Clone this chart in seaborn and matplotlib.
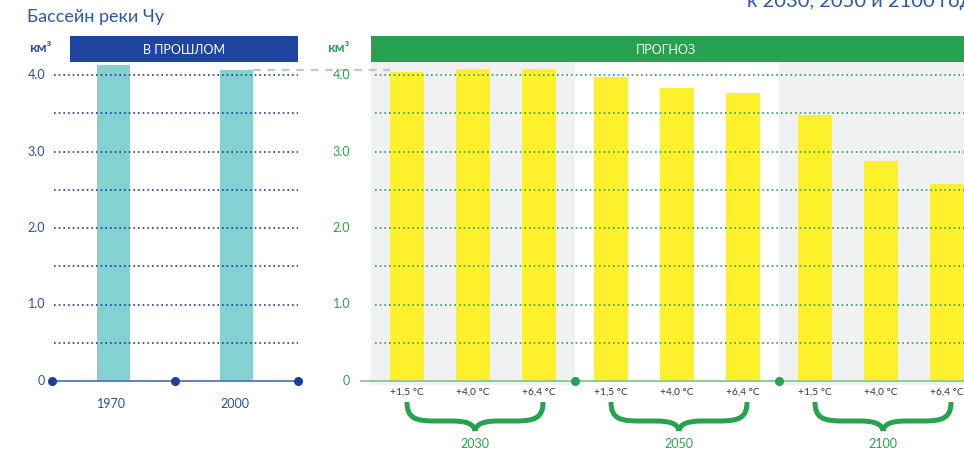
import matplotlib
matplotlib.use("Agg")
import matplotlib.pyplot as plt
from matplotlib.path import Path
from matplotlib.patches import PathPatch, Rectangle
import seaborn as sns
import pandas as pd

# ---------------- data ----------------
past_years = ["1970", "2000"]
past_values = [4.13, 4.07]

forecast_years = ["2030", "2050", "2100"]
scenarios = ["+1,5 °C", "+4,0 °C", "+6,4 °C"]
values_15 = [4.04, 3.97, 3.48]
values_40 = [4.08, 3.83, 2.88]
values_64 = [4.08, 3.76, 2.58]

y_ticks = [0, 1, 2, 3, 4]
y_tick_labels = ["0", "1.0", "2.0", "3.0", "4.0"]
grid_levels = [0.5, 1.0, 1.5, 2.0, 2.5, 3.0, 3.5, 4.0]

title = "Бассейн реки Чу"
top_title = "к 2030, 2050 и 2100 годам"
unit = "км³"
past_header = "В ПРОШЛОМ"
forecast_header = "ПРОГНОЗ"

# ---------------- style ----------------
sns.set_theme(style="white")
FONT = ["Lato", "Open Sans", "DejaVu Sans"]
plt.rcParams["font.family"] = FONT

BLUE_HDR = "#1E46A0"
BLUE_TXT = "#2D4F9E"
TITLE_BLUE = "#2E59A8"
GREEN_HDR = "#27A24E"
GREEN_TXT = "#2BA14F"
TEAL = "#83D1D1"
YELLOW = "#FEF12B"
GRAY_BAND = "#F0F1F3"

W, H = 964, 450
fig = plt.figure(figsize=(W / 100, H / 100), dpi=100)

def fig_rect(x0, y_top, x1, y_bot):
    return [x0 / W, (H - y_bot) / H, (x1 - x0) / W, (y_bot - y_top) / H]

px_per_unit = 76.5
y_base_px = 381
y_top_px = 62
y_bot_px = 385
ylim = (-(y_bot_px - y_base_px) / px_per_unit, (y_base_px - y_top_px) / px_per_unit)

# ---------------- left panel ----------------
axL = fig.add_axes(fig_rect(52, y_top_px, 298, y_bot_px))
past_df = pd.DataFrame({"year": past_years, "value": past_values})
sns.barplot(data=past_df, x="year", y="value", color=TEAL, saturation=1,
            width=0.276, linewidth=0, ax=axL, zorder=2)
axL.set_xlim(-0.5, 1.5)
axL.set_ylim(*ylim)
for lvl in grid_levels:
    axL.plot([-0.48, 1.5], [lvl, lvl], ls=(0, (1, 1.8)), lw=1.2,
             color="#1E3F9A", zorder=3, clip_on=False)
axL.plot([-0.5, 1.5], [0, 0], color="#5A76B2", lw=1.3, zorder=3, clip_on=False)
axL.plot([-0.5, 0.5, 1.5], [0, 0, 0], "o", color="#1E3F98", ms=5.5, zorder=4,
         clip_on=False)
axL.axis("off")

# ---------------- right panel ----------------
axR = fig.add_axes(fig_rect(371, y_top_px, 983, y_bot_px))
fc_df = pd.DataFrame({
    "year": forecast_years * 3,
    "scenario": [scenarios[0]] * 3 + [scenarios[1]] * 3 + [scenarios[2]] * 3,
    "value": values_15 + values_40 + values_64,
})
axR.axvspan(-0.5, 0.5, color=GRAY_BAND, zorder=0, lw=0)
axR.axvspan(1.5, 2.5, color=GRAY_BAND, zorder=0, lw=0)
sns.barplot(data=fc_df, x="year", y="value", hue="scenario", hue_order=scenarios,
            palette=[YELLOW] * 3, saturation=1, width=0.97, gap=0.485,
            linewidth=0, legend=False, ax=axR, zorder=2)
axR.set_xlim(-0.5, 2.5)
axR.set_ylim(*ylim)
for lvl in grid_levels:
    axR.plot([-0.48, 2.5], [lvl, lvl], ls=(0, (1, 1.8)), lw=1.2,
             color=GREEN_TXT, zorder=3, clip_on=False)
axR.plot([-0.55, 2.5], [0, 0], color="#86C994", lw=1.3, zorder=3, clip_on=False)
axR.plot([0.5, 1.5], [0, 0], "o", color=GREEN_HDR, ms=5.5, zorder=4, clip_on=False)
axR.axis("off")

# ---------------- overlay (pixel coordinates) ----------------
ov = fig.add_axes([0, 0, 1, 1])
ov.set_xlim(0, W)
ov.set_ylim(H, 0)
ov.axis("off")

def to_px(ax, x, y):
    dx, dy = ax.transData.transform((x, y))
    return dx, H - dy

# title texts
ov.text(27, 17, title, fontsize=13, color=TITLE_BLUE, va="center", ha="left")
ov.text(747, 7, top_title, fontsize=14.5, color=TITLE_BLUE, va="baseline", ha="left")

# header bars
ov.add_patch(Rectangle((70, 36), 228, 26, color=BLUE_HDR, lw=0))
ov.text(184, 49.5, past_header, fontsize=9, color="white", ha="center", va="center")
ov.add_patch(Rectangle((371, 36), W - 371, 26, color=GREEN_HDR, lw=0))
ov.text(666, 49.5, forecast_header, fontsize=9, color="white", ha="center", va="center")

# unit labels
ov.text(29, 48, unit, fontsize=10, color=BLUE_TXT, fontweight="bold", ha="left", va="center")
ov.text(327, 48, unit, fontsize=10, color=GREEN_TXT, fontweight="bold", ha="left", va="center")

# y tick labels
for t, lab in zip(y_ticks, y_tick_labels):
    _, py = to_px(axL, 0, t)
    ov.text(45, py, lab, fontsize=9, color=BLUE_TXT, ha="right", va="center")
    _, py = to_px(axR, 0, t)
    ov.text(350, py, lab, fontsize=9, color=GREEN_TXT, ha="right", va="center")

# past x labels
for i, yr in enumerate(past_years):
    px, _ = to_px(axL, i, 0)
    ov.text(px - 2, 404, yr, fontsize=9, color=BLUE_TXT, ha="center", va="center")

# dashed connector from 2000 bar to the forecast panel
bar2000 = axL.patches[1]
cx1, cy1 = to_px(axL, bar2000.get_x() + bar2000.get_width(), bar2000.get_height())
ov.plot([cx1, 390], [cy1, cy1], ls=(0, (3.5, 3)), lw=1.6, color="#C6C6C6")

# scenario labels under each forecast bar
for p in axR.patches:
    if p.get_height() <= 0 or p.get_width() > 0.5:
        continue
    xc = p.get_x() + p.get_width() / 2
    bx, _ = to_px(axR, xc, 0)
    lab = scenarios[int(round((xc - round(xc)) / 0.3235)) + 1]
    ov.text(bx, 392, lab, fontsize=7.3, color="#333333", ha="center", va="center")

# braces + year labels
def brace(cx, hw, top=402, mid=421, tip=431):
    for s in (-1, 1):
        verts = [(cx + s * hw, top),
                 (cx + s * hw, top + 16), (cx + s * (hw - 8), mid), (cx + s * (hw - 28), mid),
                 (cx + s * 24, mid),
                 (cx + s * 8, mid), (cx + s * 1, mid + 3), (cx, tip)]
        codes = [Path.MOVETO, Path.CURVE4, Path.CURVE4, Path.CURVE4,
                 Path.LINETO, Path.CURVE4, Path.CURVE4, Path.CURVE4]
        ov.add_patch(PathPatch(Path(verts, codes), fill=False, lw=3.6,
                               edgecolor=GREEN_HDR, capstyle="butt", joinstyle="round"))

for i, yr in enumerate(forecast_years):
    gx, _ = to_px(axR, i, 0)
    brace(gx + 2, 68)
    ov.text(gx + 2, 444, yr, fontsize=9, color=GREEN_TXT, ha="center", va="center")

fig.savefig("out.png", dpi=100)
